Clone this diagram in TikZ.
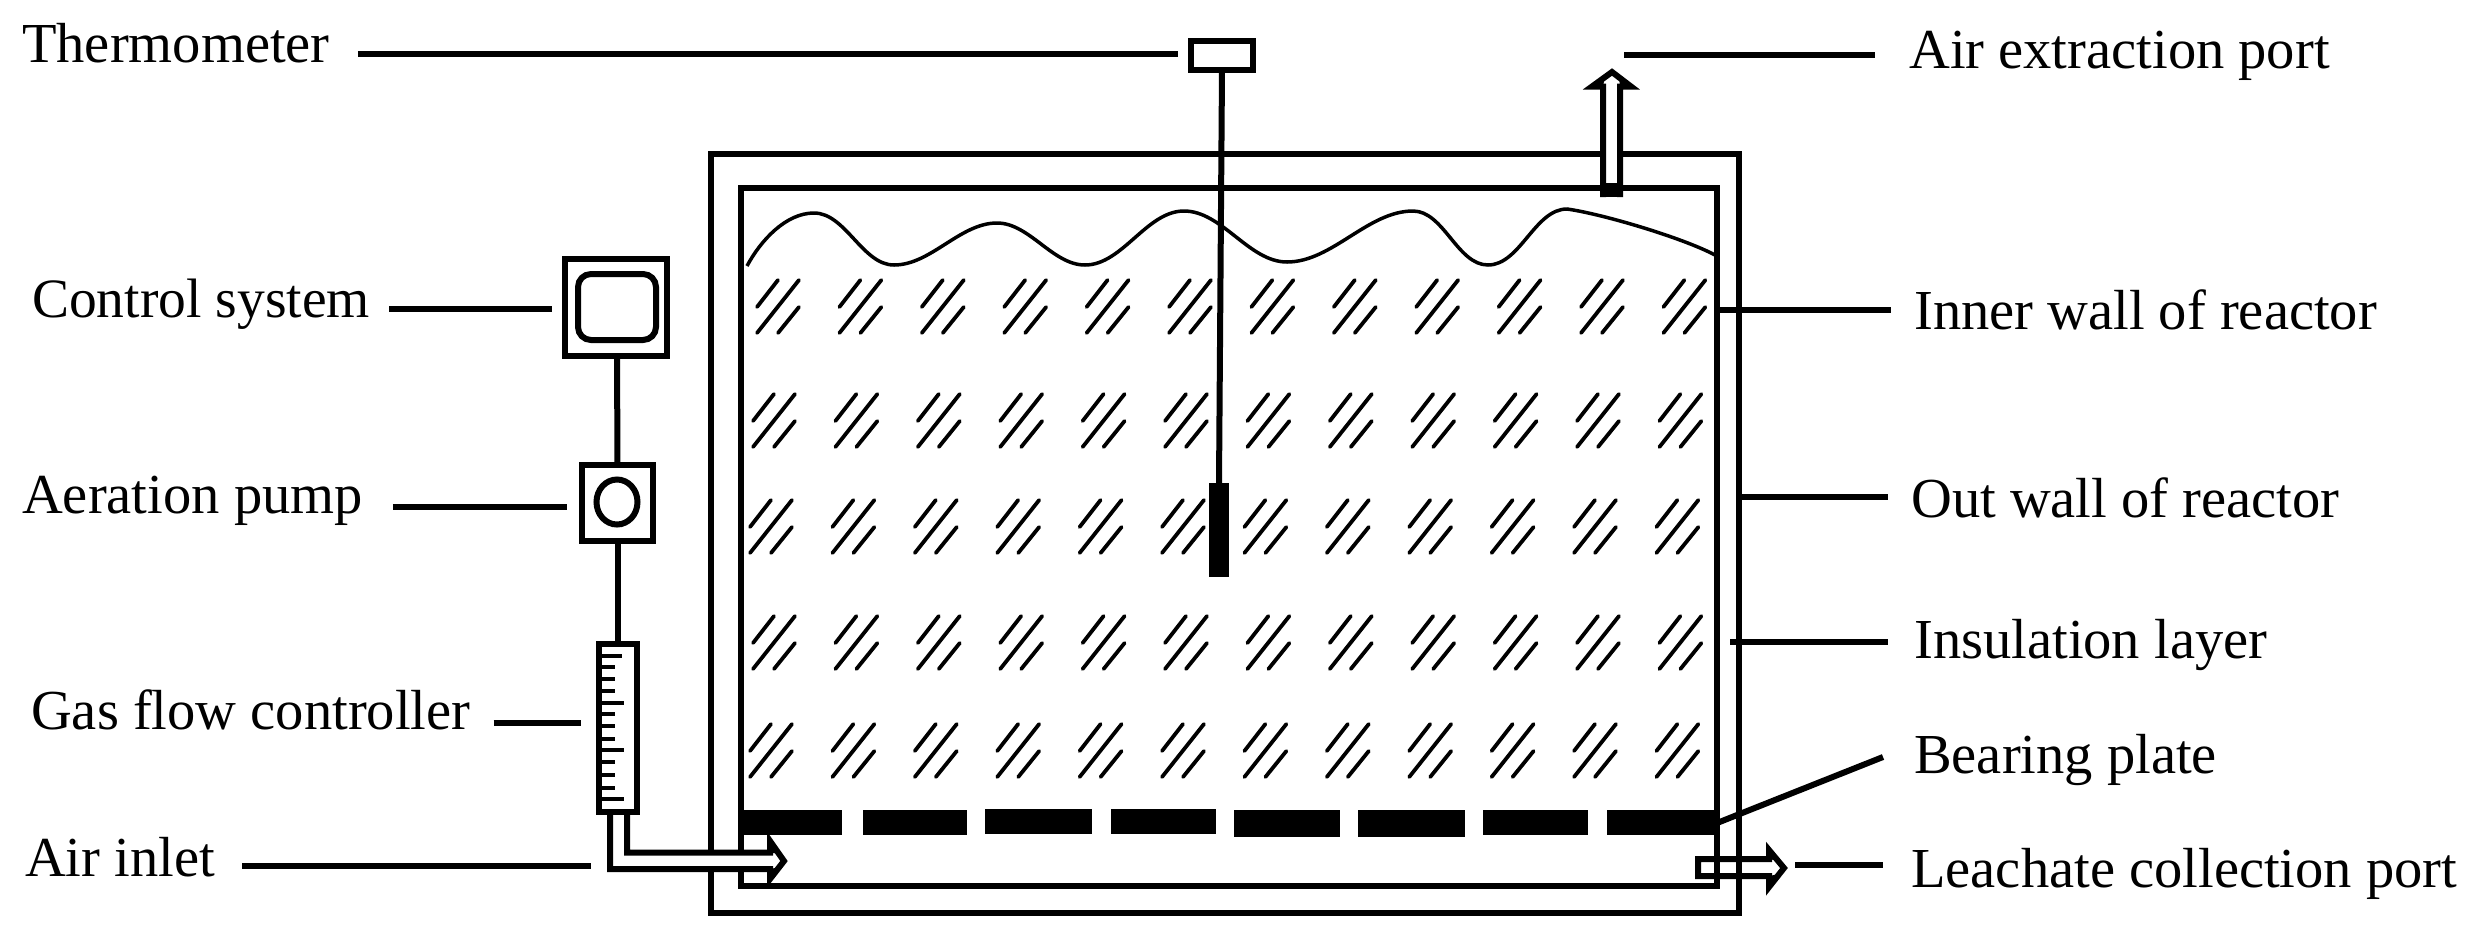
\documentclass[tikz,border=0pt]{standalone}
\usepackage{fontspec}
\setmainfont{Liberation Serif}
\usetikzlibrary{shapes.geometric}
\tikzset{
  wall/.style     = {shape=rectangle, draw, line width=6pt, inner sep=0pt, outer sep=0pt},
  device/.style   = {wall, fill=white},
  solid/.style    = {shape=rectangle, fill=black, inner sep=0pt, outer sep=0pt},
  lbl/.style      = {anchor=base west, inner sep=0pt, font=\fontsize{56.5}{60}\selectfont},
  leader/.style   = {draw, line width=6pt},
  pipe/.style     = {draw, line width=6pt, miter limit=20},
  hatchline/.style = {draw, line width=3.8pt, line cap=round},
  tick/.style     = {draw, line width=4pt}
}

\begin{document}
\begin{tikzpicture}[x=1pt, y=-1pt]
  \useasboundingbox (0,0) rectangle (2479,930);

  % reactor walls
  \node [wall, minimum width=1028pt, minimum height=759pt] (outWall) at (1225,533.5) {};
  \node [wall, minimum width=976pt, minimum height=698pt] (inWall) at (1229,537) {};

  % surface of the material
  \draw [line width=3.5pt, looseness=.85] (747,266) to[out=62,in=180] (814,213) to[out=0,in=180] (894,265)
    to[out=0,in=180] (997,223) to[out=0,in=180] (1085,265) to[out=0,in=180] (1184,211)
    to[out=0,in=180] (1287,262) to[out=0,in=180] (1413,211) to[out=0,in=180] (1488,265)
    to[out=0,in=180] (1567,209) to[out=-8,in=152,looseness=.6] (1715,255);

  % material hatching
  \foreach \y/\xs in {333/757, 447/753, 553/750, 669/753, 777/750}
    \foreach \c in {0,...,11} {
      \draw [hatchline] (\xs+\c*82.4,\y) -- ++(42,-53);
      \draw [hatchline] (\xs+\c*82.4,\y-26) -- ++(21,-27);
      \draw [hatchline] (\xs+\c*82.4+21,\y) -- ++(21,-26);
    }

  % bearing plate
  \foreach \n/\l/\r/\t/\b in {1/740/842/810/835, 2/863/967/810/835, 3/985/1092/809/834,
      4/1111/1216/809/834, 5/1234/1340/810/837, 6/1358/1465/810/837, 7/1483/1588/810/835,
      8/1607/1717/810/835}
    \fill (\l,\t) rectangle (\r,\b) coordinate (plate\n);
  \coordinate (plateEnd) at (1717,823);

  % thermometer
  \node [device, minimum width=62pt, minimum height=29pt] (thermoBox) at (1222,55) {};
  \node [solid, minimum width=20pt, minimum height=94pt] (probe) at (1219,530) {};
  \draw [leader] (thermoBox.south) -- (probe.north);

  % air extraction port
  \path [pipe, fill=white] (1603,197) -- (1603,86.5) -- (1592,86.5) -- (1612,72) -- (1631,86.5)
    -- (1620,86.5) -- (1620,197);
  \fill (1592,86.5) -- (1605,76) -- (1603,86.5) -- cycle (1631,86.5) -- (1619,76) -- (1620,86.5) -- cycle;
  \fill (1600,183) rectangle (1623,197);

  % leachate collection port
  \path [pipe] (1769,859) -- (1698,859) -- (1698,876) -- (1769,876) -- (1769,887)
    -- (1784,868) -- (1769,850) -- cycle;
  \fill (1769,850) -- (1779,861) -- (1769,859) -- cycle (1769,887) -- (1779,874) -- (1769,876) -- cycle;

  % control system, pump, flow controller
  \node [wall, minimum width=102pt, minimum height=97pt] (ctrlBox) at (616,307.5) {};
  \node [wall, rounded corners=13pt, minimum width=78pt, minimum height=66pt] (ctrlScreen) at (617,307) {};
  \node [wall, minimum width=71pt, minimum height=76pt] (pumpBox) at (617.5,503) {};
  \node [wall, shape=ellipse, minimum width=41pt, minimum height=45pt] (pumpWheel) at (617,502) {};
  \node [wall, minimum width=38pt, minimum height=168pt] (flowBox) at (617.5,728) {};
  \draw [leader] (ctrlBox.south -| ctrlScreen) -- (pumpBox.north);
  \draw [leader] (pumpBox.south) -- (flowBox.north);
  \foreach \y/\e in {656/622, 667/615, 679/615, 691/615, 703/624, 714/615, 726/615, 739/615,
      750/624, 762/615, 775/615, 788/615, 799/624}
    \draw [tick] (flowBox.west |- 0,\y) -- (\e,\y);

  % air inlet
  \path [pipe, fill=white] (610,815) -- (610,869) -- (770,869) -- (770,879) -- (784,861)
    -- (770,841) -- (770,852.5) -- (627,852.5) -- (627,815);
  \fill (770,841) -- (780,854) -- (770,852.5) -- cycle (770,879) -- (780,867) -- (770,869) -- cycle;

  % labels
  \node [lbl] (lbThermo) at (22,62) {Thermometer};
  \node [lbl, font=\fontsize{55.5}{60}\selectfont] (lbCtrl) at (32,317) {Control system};
  \node [lbl] (lbPump) at (22,513) {Aeration pump};
  \node [lbl] (lbFlow) at (31,729) {Gas flow controller};
  \node [lbl] (lbInlet) at (25,876) {Air inlet};
  \node [lbl] (lbExtract) at (1909,68) {Air extraction port};
  \node [lbl] (lbInner) at (1914,329) {Inner wall of reactor};
  \node [lbl] (lbOuter) at (1911,517) {Out wall of reactor};
  \node [lbl] (lbInsul) at (1914,658) {Insulation layer};
  \node [lbl] (lbBearing) at (1914,773) {Bearing plate};
  \node [lbl] (lbLeach) at (1911,887) {Leachate collection port};

  % leader lines
  \coordinate (ptThermo) at (1178,54);
  \coordinate (ptCtrl) at (552,309);
  \coordinate (ptPump) at (567,507);
  \coordinate (ptFlow) at (581,723);
  \coordinate (ptInlet) at (591,866);
  \coordinate (ptExtract) at (1624,55);
  \coordinate (ptInner) at (1717,310);
  \coordinate (ptOuter) at (1739,497);
  \coordinate (ptInsul) at (1730,642);
  \coordinate (ptBearing) at (1883,757);
  \coordinate (ptLeach) at (1795,865);
  \draw [leader, shorten <=28pt] (lbThermo.east |- ptThermo) -- (ptThermo);
  \draw [leader, shorten <=19pt] (lbCtrl.east |- ptCtrl) -- (ptCtrl);
  \draw [leader, shorten <=30pt] (lbPump.east |- ptPump) -- (ptPump);
  \draw [leader, shorten <=23pt] (lbFlow.east |- ptFlow) -- (ptFlow);
  \draw [leader, shorten <=27pt] (lbInlet.east |- ptInlet) -- (ptInlet);
  \draw [leader, shorten >=34pt] (ptExtract) -- (lbExtract.west |- ptExtract);
  \draw [leader, shorten >=23pt] (ptInner) -- (lbInner.west |- ptInner);
  \draw [leader, shorten >=23pt] (ptOuter) -- (lbOuter.west |- ptOuter);
  \draw [leader, shorten >=26pt] (ptInsul) -- (lbInsul.west |- ptInsul);
  \draw [leader] (plateEnd) -- (ptBearing);
  \draw [leader, shorten >=28pt] (ptLeach) -- (lbLeach.west |- ptLeach);
\end{tikzpicture}
\end{document}
